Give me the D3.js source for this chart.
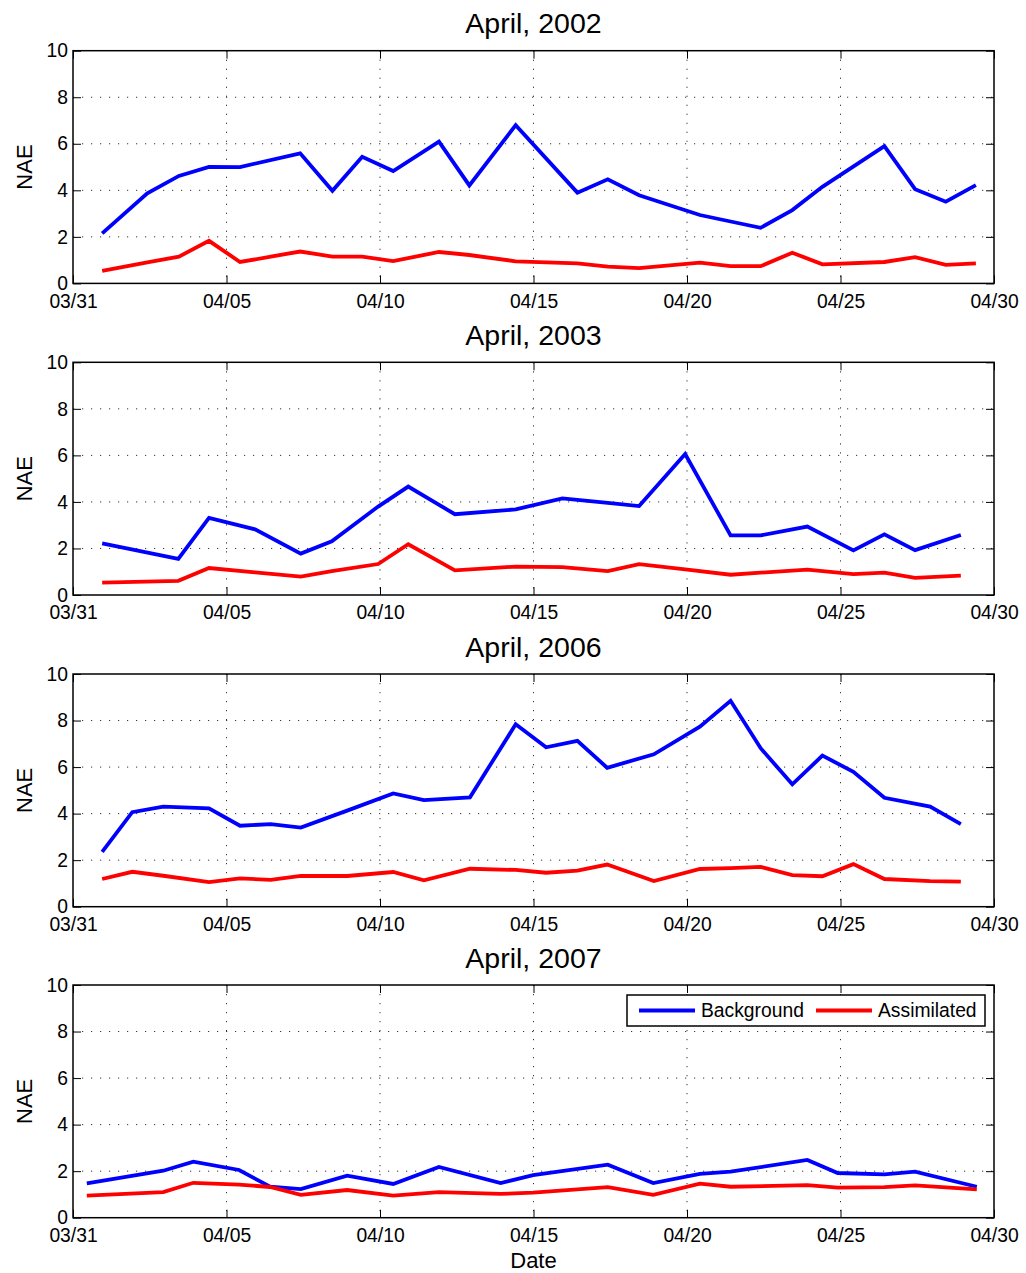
<!DOCTYPE html>
<html>
<head>
<meta charset="utf-8">
<script src="https://cdn.jsdelivr.net/npm/d3@7"></script>
<style>
  body { margin: 0; background: #fff; }
  svg { font-family: "Liberation Sans", Arial, Helvetica, sans-serif; }
</style>
</head>
<body>
<div id="chart"></div>
<script>
// NAE per day in April, background vs assimilated
// x values are days after 03/31

const tickDays = [0, 5, 10, 15, 20, 25, 30];
const tickLabels = ["03/31", "04/05", "04/10", "04/15", "04/20", "04/25", "04/30"];
const yTicks = [0, 2, 4, 6, 8, 10];

const days2002 = [0.95, 2.42, 3.45, 4.43, 5.44, 7.4, 8.45, 9.42, 10.43, 11.92, 12.91, 14.42, 16.43, 17.42, 18.44, 20.42, 21.42, 22.4, 23.43, 24.41, 26.43, 27.43, 28.43, 29.41];
const bg2002 = [2.15, 3.87, 4.62, 5.01, 5.0, 5.59, 3.98, 5.44, 4.83, 6.09, 4.21, 6.8, 3.9, 4.47, 3.79, 2.94, 2.66, 2.39, 3.15, 4.15, 5.9, 4.05, 3.51, 4.22];
const as2002 = [0.54, 0.9, 1.15, 1.83, 0.92, 1.37, 1.15, 1.15, 0.96, 1.35, 1.22, 0.95, 0.86, 0.72, 0.66, 0.89, 0.74, 0.74, 1.32, 0.82, 0.92, 1.13, 0.8, 0.86];

const days2003 = [0.95, 3.43, 4.43, 5.93, 7.42, 8.43, 9.94, 10.92, 12.44, 14.42, 15.94, 17.42, 18.44, 19.94, 21.42, 22.4, 23.92, 25.42, 26.43, 27.43, 28.92];
const bg2003 = [2.22, 1.55, 3.31, 2.82, 1.78, 2.31, 3.8, 4.66, 3.47, 3.68, 4.15, 3.96, 3.82, 6.06, 2.56, 2.56, 2.94, 1.92, 2.61, 1.93, 2.58];
const as2003 = [0.53, 0.61, 1.16, 0.97, 0.79, 1.03, 1.33, 2.18, 1.06, 1.22, 1.2, 1.03, 1.33, 1.1, 0.87, 0.96, 1.09, 0.9, 0.96, 0.74, 0.83];

const days2006 = [0.95, 1.93, 2.94, 4.43, 5.44, 6.44, 7.42, 8.93, 10.43, 11.43, 12.93, 14.42, 15.41, 16.43, 17.4, 18.92, 20.42, 21.42, 22.4, 23.43, 24.41, 25.42, 26.43, 27.92, 28.92];
const bg2006 = [2.36, 4.06, 4.3, 4.23, 3.48, 3.55, 3.4, 4.13, 4.87, 4.58, 4.7, 7.84, 6.85, 7.13, 5.97, 6.55, 7.74, 8.85, 6.81, 5.26, 6.49, 5.8, 4.68, 4.3, 3.55];
const as2006 = [1.19, 1.5, 1.33, 1.06, 1.22, 1.15, 1.32, 1.32, 1.49, 1.13, 1.63, 1.58, 1.46, 1.55, 1.81, 1.1, 1.62, 1.66, 1.71, 1.36, 1.31, 1.83, 1.19, 1.1, 1.08];

const days2007 = [0.45, 2.94, 3.92, 5.41, 6.42, 7.42, 8.93, 10.43, 11.92, 13.93, 14.99, 17.42, 18.9, 20.42, 21.42, 23.92, 24.91, 26.43, 27.43, 29.44];
const bg2007 = [1.48, 2.02, 2.41, 2.05, 1.33, 1.23, 1.81, 1.45, 2.18, 1.49, 1.83, 2.28, 1.49, 1.88, 1.98, 2.48, 1.92, 1.86, 1.98, 1.33];
const as2007 = [0.95, 1.1, 1.5, 1.42, 1.32, 0.98, 1.19, 0.95, 1.1, 1.02, 1.08, 1.31, 0.98, 1.46, 1.33, 1.4, 1.29, 1.31, 1.39, 1.22];

const panels = [
    {title: "April, 2002", days: days2002, bg: bg2002, as: as2002},
    {title: "April, 2003", days: days2003, bg: bg2003, as: as2003},
    {title: "April, 2006", days: days2006, bg: bg2006, as: as2006},
    {title: "April, 2007", days: days2007, bg: bg2007, as: as2007}
];

const w = 1026, h = 1273;
const left = 73, right = 994;
const plotH = 232.7;
const tops = [50.7, 362.3, 674, 985];

const svg = d3.select("#chart").append("svg")
    .attr("width", w)
    .attr("height", h);

svg.append("rect").attr("width", w).attr("height", h).attr("fill", "#fff");

const x = d3.scaleLinear().domain([0, 30]).range([left, right]);

panels.forEach(function(p, i) {
    let top = tops[i];
    let y = d3.scaleLinear().domain([0, 10]).range([top + plotH, top]);
    let g = svg.append("g");

    // grid
    g.selectAll(".hgrid").data(yTicks.slice(1, -1)).enter().append("line")
        .attr("x1", left).attr("x2", right)
        .attr("y1", d => y(d)).attr("y2", d => y(d))
        .attr("stroke", "#333").attr("stroke-width", 1)
        .attr("stroke-dasharray", "1.2,7.8");
    g.selectAll(".vgrid").data(tickDays.slice(1, -1)).enter().append("line")
        .attr("x1", d => x(d)).attr("x2", d => x(d))
        .attr("y1", top).attr("y2", top + plotH)
        .attr("stroke", "#333").attr("stroke-width", 1)
        .attr("stroke-dasharray", "1.2,7.8");

    // axes, ticks pointing inward
    let xAxis = d3.axisBottom(x).tickValues(tickDays)
        .tickFormat((d, k) => tickLabels[k])
        .tickSizeInner(-8).tickSizeOuter(0).tickPadding(10.5);
    let yAxis = d3.axisLeft(y).tickValues(yTicks)
        .tickSizeInner(-8).tickSizeOuter(0).tickPadding(5);

    g.append("g").attr("transform", "translate(0," + (top + plotH) + ")").call(xAxis);
    g.append("g").attr("transform", "translate(" + left + ",0)").call(yAxis);
    g.append("g").attr("transform", "translate(0," + top + ")")
        .call(d3.axisTop(x).tickValues(tickDays).tickFormat("").tickSizeInner(-8).tickSizeOuter(0));
    g.append("g").attr("transform", "translate(" + right + ",0)")
        .call(d3.axisRight(y).tickValues(yTicks).tickFormat("").tickSizeInner(-8).tickSizeOuter(0));

    g.selectAll(".domain").remove();
    g.selectAll(".tick line").attr("stroke", "#000").attr("stroke-width", 1);
    g.selectAll(".tick text").attr("font-size", 19.3).attr("fill", "#000")
        .attr("font-family", "Liberation Sans, Arial, sans-serif");

    // lines
    let line = d3.line()
        .x(d => x(d[0]))
        .y(d => y(d[1]));

    g.append("path")
        .datum(d3.zip(p.days, p.bg))
        .attr("d", line)
        .attr("fill", "none")
        .attr("stroke", "#0000ff")
        .attr("stroke-width", 3.8)
        .attr("stroke-linejoin", "miter");

    g.append("path")
        .datum(d3.zip(p.days, p.as))
        .attr("d", line)
        .attr("fill", "none")
        .attr("stroke", "#ff0000")
        .attr("stroke-width", 3.8)
        .attr("stroke-linejoin", "miter");

    // box
    g.append("rect")
        .attr("x", left).attr("y", top)
        .attr("width", right - left).attr("height", plotH)
        .attr("fill", "none").attr("stroke", "#000").attr("stroke-width", 1.5);

    // title
    g.append("text")
        .attr("x", (left + right) / 2)
        .attr("y", top - 17.5)
        .attr("text-anchor", "middle")
        .attr("font-size", 28.5)
        .text(p.title);

    // y label
    g.append("text")
        .attr("transform", "translate(32," + (top + plotH / 2) + ") rotate(-90)")
        .attr("text-anchor", "middle")
        .attr("font-size", 22)
        .text("NAE");

    // legend in last panel
    if (i === panels.length - 1) {
        let lg = g.append("g");
        lg.append("rect")
            .attr("x", 627).attr("y", top + 10)
            .attr("width", 358).attr("height", 31)
            .attr("fill", "#fff").attr("stroke", "#000").attr("stroke-width", 1.5);
        let items = [
            {name: "Background", color: "#0000ff", x0: 639},
            {name: "Assimilated", color: "#ff0000", x0: 816}
        ];
        items.forEach(function(it) {
            lg.append("line")
                .attr("x1", it.x0).attr("x2", it.x0 + 56)
                .attr("y1", top + 25.5).attr("y2", top + 25.5)
                .attr("stroke", it.color).attr("stroke-width", 3.8);
            lg.append("text")
                .attr("x", it.x0 + 62)
                .attr("y", top + 25.5)
                .attr("dy", "0.35em")
                .attr("font-size", 19.3)
                .text(it.name);
        });
    }
});

// x label
svg.append("text")
    .attr("x", (left + right) / 2)
    .attr("y", 1268)
    .attr("text-anchor", "middle")
    .attr("font-size", 22)
    .text("Date");
</script>
</body>
</html>
